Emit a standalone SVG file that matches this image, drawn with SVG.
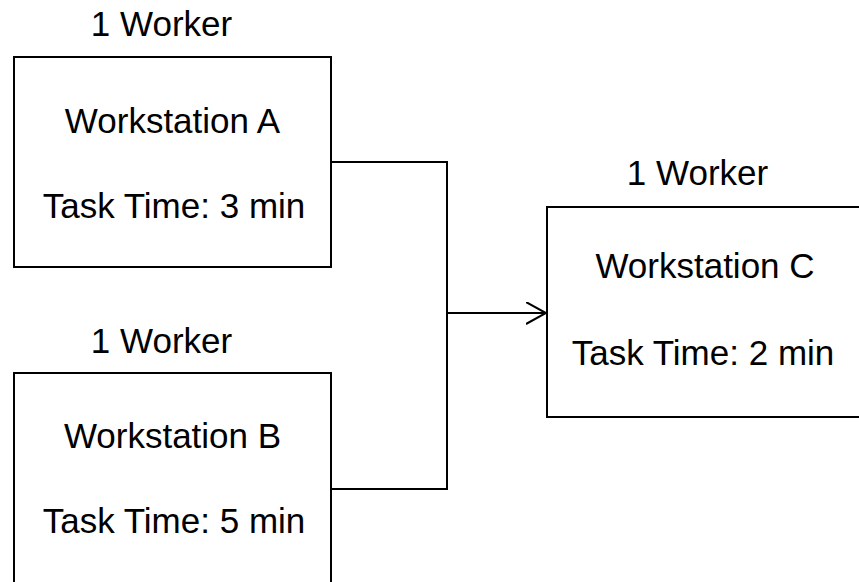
<svg xmlns="http://www.w3.org/2000/svg" width="859" height="582" viewBox="0 0 859 582">
<style>
.box{fill:#fff;stroke:#000;stroke-width:2}
.t{font-family:"Liberation Sans",Arial,sans-serif;font-size:35px;fill:#000;text-anchor:middle}
.c{fill:none;stroke:#000;stroke-width:2}
</style>
<defs>
<marker id="arr" markerWidth="22" markerHeight="24" refX="20" refY="11" orient="auto" markerUnits="userSpaceOnUse">
<path d="M0,0 L20,11 L0,22" fill="none" stroke="#000" stroke-width="2"/>
</marker>
</defs>
<rect width="859" height="582" fill="#fff"/>
<g id="connectors">
<polyline class="c" points="331,162 447,162 447,489 331,489"/>
<line class="c" x1="447" y1="313" x2="546" y2="313" marker-end="url(#arr)"/>
</g>
<g id="workstationA">
<text class="t" x="161.5" y="36">1 Worker</text>
<rect class="box" x="14" y="57" width="317" height="210"/>
<text class="t" x="172.5" y="133">Workstation A</text>
<text class="t" x="174" y="218">Task Time: 3 min</text>
</g>
<g id="workstationB">
<text class="t" x="161.5" y="353">1 Worker</text>
<rect class="box" x="14" y="373" width="317" height="210"/>
<text class="t" x="172.5" y="448">Workstation B</text>
<text class="t" x="174" y="533">Task Time: 5 min</text>
</g>
<g id="workstationC">
<text class="t" x="697.5" y="185">1 Worker</text>
<rect class="box" x="547" y="207" width="317" height="210"/>
<text class="t" x="705" y="278">Workstation C</text>
<text class="t" x="703" y="365">Task Time: 2 min</text>
</g>
</svg>
